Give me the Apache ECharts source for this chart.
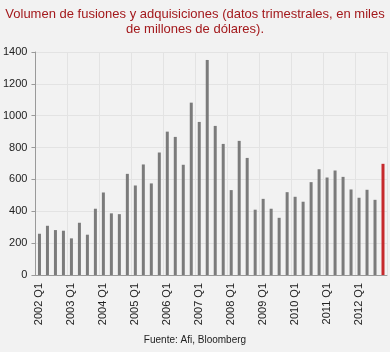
<!DOCTYPE html>
<html>
<head>
<meta charset="utf-8">
<script src="https://cdn.jsdelivr.net/npm/echarts@6/dist/echarts.min.js"></script>
<style>
  html, body { margin: 0; padding: 0; background: #f2f2f2; }
  #runChart { width: 390px; height: 352px; }
</style>
</head>
<body>
<div id="runChart"></div>
<script>
  let years = [2002, 2003, 2004, 2005, 2006, 2007, 2008, 2009, 2010, 2011, 2012];
  let quarters = ["Q1", "Q2", "Q3", "Q4"];
  let values = [
    259, 309, 282, 278,
    230, 328, 253, 416,
    518, 387, 382, 635,
    562, 694, 575, 769,
    900, 867, 692, 1082,
    961, 1350, 936, 823,
    533, 842, 735, 410,
    478, 416, 359, 520,
    491, 460, 583, 664,
    612, 656, 616, 537,
    485, 535, 472, 698
  ];
  let yTicks = [0, 200, 400, 600, 800, 1000, 1200, 1400];

  let categories = [];
  years.forEach(function (y) {
    quarters.forEach(function (q) {
      categories.push(y + " " + q);
    });
  });

  let option = {
    backgroundColor: "#f2f2f2",
    textStyle: { fontFamily: "Liberation Sans, Arial, sans-serif" },
    title: {
      text: "Volumen de fusiones y adquisiciones (datos trimestrales, en miles\nde millones de dólares).",
      left: "center",
      top: 2,
      textStyle: {
        color: "#a3191c",
        fontSize: 13,
        fontWeight: "normal",
        lineHeight: 15
      }
    },
    graphic: [
      {
        type: "text",
        left: "center",
        top: 335,
        style: {
          text: "Fuente: Afi, Bloomberg",
          fill: "#222",
          fontSize: 10,
          fontFamily: "Liberation Sans, Arial, sans-serif"
        }
      }
    ],
    grid: {
      left: 35,
      right: 3,
      top: 52,
      bottom: 77
    },
    xAxis: {
      type: "category",
      data: categories,
      boundaryGap: true,
      axisLine: { lineStyle: { color: "#9a9a9a" } },
      axisTick: { interval: 3, length: 4, lineStyle: { color: "#9a9a9a" } },
      axisLabel: {
        interval: 3,
        rotate: 90,
        margin: 8,
        fontSize: 11,
        color: "#222"
      },
      splitLine: { show: true, interval: 3, lineStyle: { color: "#e3e3e3" } }
    },
    yAxis: {
      type: "value",
      min: yTicks[0],
      max: yTicks[yTicks.length - 1],
      interval: 200,
      axisLine: { show: true, lineStyle: { color: "#9a9a9a" } },
      axisTick: { show: true, length: 4, lineStyle: { color: "#9a9a9a" } },
      axisLabel: {
        fontSize: 11,
        color: "#222",
        margin: 8,
        formatter: function (v) { return String(v); }
      },
      splitLine: { show: true, lineStyle: { color: "#e3e3e3" } }
    },
    series: [
      {
        type: "bar",
        barWidth: 3,
        data: values,
        itemStyle: {
          color: function (p) {
            return p.dataIndex === values.length - 1 ? "#c62a2d" : "#7b7b7b";
          }
        }
      }
    ]
  };

  var myChart = echarts.init(document.getElementById("runChart"));
  myChart.setOption(option);
</script>
</body>
</html>
